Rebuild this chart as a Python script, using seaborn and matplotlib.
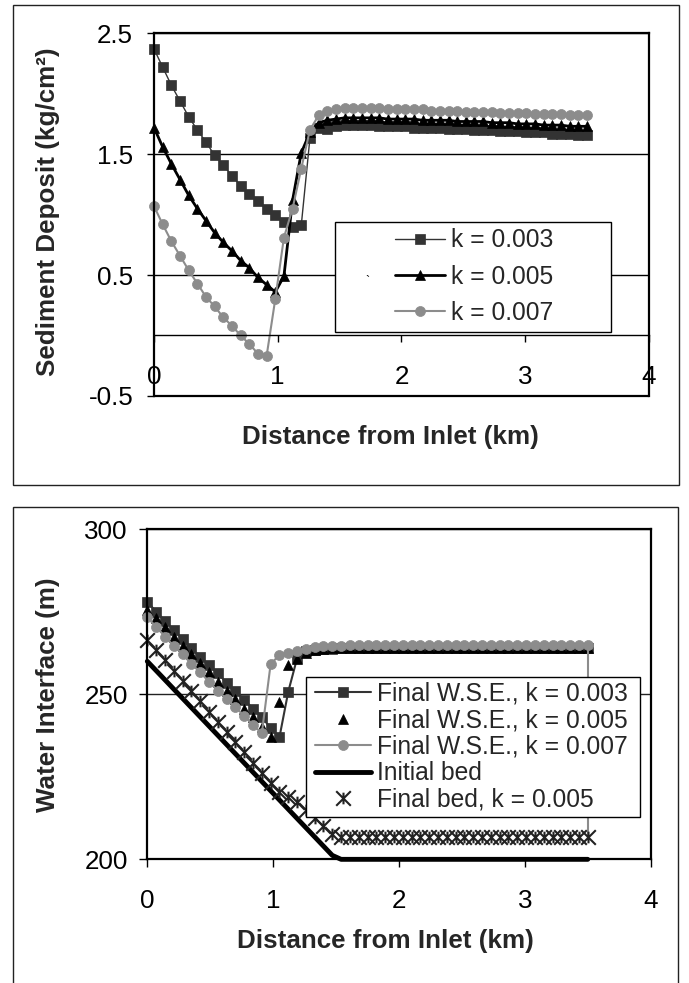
import matplotlib
matplotlib.use('Agg')
import matplotlib.pyplot as plt
import seaborn as sns
from matplotlib.patches import Rectangle
from matplotlib.path import Path

# ---------------- data ----------------
distance_km = [0.00, 0.07, 0.14, 0.21, 0.28, 0.35, 0.42, 0.49, 0.56, 0.63,
               0.70, 0.77, 0.84, 0.91, 0.98, 1.05, 1.12, 1.19, 1.26, 1.33,
               1.40, 1.47, 1.54, 1.61, 1.68, 1.75, 1.82, 1.89, 1.96, 2.03,
               2.10, 2.17, 2.24, 2.31, 2.38, 2.45, 2.52, 2.59, 2.66, 2.73,
               2.80, 2.87, 2.94, 3.01, 3.08, 3.15, 3.22, 3.29, 3.36, 3.43, 3.50]

deposit_k003 = [2.37, 2.22, 2.07, 1.94, 1.81, 1.70, 1.60, 1.49, 1.41, 1.32,
                1.24, 1.17, 1.11, 1.05, 1.00, 0.94, 0.90, 0.91, 1.63, 1.72,
                1.71, 1.73, 1.74, 1.74, 1.74, 1.74, 1.73, 1.73, 1.73, 1.73,
                1.72, 1.72, 1.72, 1.72, 1.71, 1.71, 1.71, 1.70, 1.70, 1.70,
                1.69, 1.69, 1.69, 1.68, 1.68, 1.68, 1.67, 1.67, 1.67, 1.66, 1.66]
deposit_k005 = [1.72, 1.56, 1.42, 1.29, 1.16, 1.05, 0.95, 0.85, 0.77, 0.70,
                0.62, 0.56, 0.48, 0.42, 0.36, 0.49, 1.12, 1.51, 1.68, 1.76,
                1.78, 1.79, 1.80, 1.80, 1.80, 1.80, 1.80, 1.79, 1.79, 1.79,
                1.79, 1.78, 1.78, 1.78, 1.78, 1.77, 1.77, 1.77, 1.77, 1.76,
                1.76, 1.76, 1.75, 1.75, 1.75, 1.74, 1.74, 1.74, 1.73, 1.73, 1.73]
deposit_k007 = [1.07, 0.92, 0.78, 0.66, 0.54, 0.43, 0.32, 0.24, 0.15, 0.08,
                0.00, -0.07, -0.15, -0.17, 0.30, 0.81, 1.05, 1.38, 1.70, 1.82,
                1.86, 1.87, 1.88, 1.88, 1.88, 1.88, 1.88, 1.87, 1.87, 1.87,
                1.87, 1.87, 1.86, 1.86, 1.86, 1.86, 1.85, 1.85, 1.85, 1.85,
                1.84, 1.84, 1.84, 1.84, 1.83, 1.83, 1.83, 1.83, 1.82, 1.82, 1.82]

wse_k003 = [278.1, 275.0, 272.3, 269.5, 266.7, 263.9, 261.4, 258.9, 256.4, 253.5,
            251.0, 248.3, 245.7, 243.2, 239.7, 237.0, 250.8, 260.9, 263.0, 263.4,
            263.6, 263.8, 263.9, 263.9, 264.0, 264.0, 264.0, 264.0, 264.0, 264.0,
            264.0, 264.0, 264.0, 264.0, 264.0, 264.0, 264.0, 264.0, 264.0, 264.0,
            264.0, 264.0, 264.0, 264.0, 264.0, 264.0, 264.0, 264.0, 264.0, 264.0, 264.0]
wse_k005 = [275.5, 273.0, 270.3, 267.5, 264.7, 262.2, 259.4, 256.7, 253.8, 251.1,
            248.5, 245.7, 243.2, 240.2, 237.0, 247.8, 258.9, 260.6, 262.5, 263.3,
            263.6, 263.9, 264.0, 264.0, 264.0, 264.1, 264.1, 264.1, 264.1, 264.1,
            264.1, 264.1, 264.1, 264.1, 264.1, 264.1, 264.1, 264.1, 264.1, 264.1,
            264.1, 264.1, 264.1, 264.1, 264.1, 264.1, 264.1, 264.1, 264.1, 264.1, 264.1]
wse_k007 = [273.3, 270.5, 267.5, 264.7, 262.2, 259.2, 256.7, 253.8, 251.1, 248.6,
            246.1, 243.5, 240.7, 238.2, 259.2, 261.9, 262.6, 263.2, 263.8, 264.2,
            264.5, 264.7, 264.8, 264.9, 264.9, 264.9, 264.9, 264.9, 264.9, 264.9,
            264.9, 264.9, 264.9, 264.9, 264.9, 264.9, 264.9, 264.9, 264.9, 264.9,
            264.9, 264.9, 264.9, 264.9, 264.9, 264.9, 264.9, 264.9, 264.9, 264.9, 264.9]
initial_bed = [260.0, 257.2, 254.4, 251.6, 248.8, 246.0, 243.2, 240.4, 237.6, 234.8,
               232.0, 229.2, 226.4, 223.6, 220.8, 218.0, 215.2, 212.4, 209.6, 206.8,
               204.0, 201.2, 200.0, 200.0, 200.0, 200.0, 200.0, 200.0, 200.0, 200.0,
               200.0, 200.0, 200.0, 200.0, 200.0, 200.0, 200.0, 200.0, 200.0, 200.0,
               200.0, 200.0, 200.0, 200.0, 200.0, 200.0, 200.0, 200.0, 200.0, 200.0, 200.0]
final_bed_k005 = [266.5, 263.4, 260.3, 257.2, 254.1, 251.0, 247.9, 244.8, 241.7, 238.6,
                  235.5, 232.4, 229.3, 226.2, 223.0, 220.5, 219.0, 217.5, 215.0, 212.4,
                  210.0, 207.8, 206.9, 206.8, 206.8, 206.8, 206.8, 206.8, 206.8, 206.8,
                  206.8, 206.8, 206.8, 206.8, 206.8, 206.8, 206.8, 206.8, 206.8, 206.8,
                  206.8, 206.8, 206.8, 206.8, 206.8, 206.8, 206.8, 206.8, 206.8, 206.8, 206.8]

x_ticks = [0, 1, 2, 3, 4]
x_tick_labels = ['0', '1', '2', '3', '4']
top_y_ticks = [-0.5, 0.5, 1.5, 2.5]
top_y_tick_labels = ['-0.5', '0.5', '1.5', '2.5']
bot_y_ticks = [200, 250, 300]
bot_y_tick_labels = ['200', '250', '300']

top_labels = ['k = 0.003', 'k = 0.005', 'k = 0.007']
bot_labels = ['Final W.S.E., k = 0.003', 'Final W.S.E., k = 0.005',
              'Final W.S.E., k = 0.007', 'Initial bed', 'Final bed, k = 0.005']

# ---------------- style ----------------
sns.set_style('white')
plt.rcParams['font.family'] = ['Liberation Sans', 'DejaVu Sans']
plt.rcParams['axes.unicode_minus'] = False

DARK = '#333333'
GRAY = '#8c8c8c'
TICK_FS = 18.7
LAB_FS = 18.7
LEG_FS = 17.7

# Excel-like star marker: an X with a short vertical stroke
star_marker = Path([(-1, -1), (1, 1), (-1, 1), (1, -1), (0, -0.8), (0, 0.8)],
                   [Path.MOVETO, Path.LINETO, Path.MOVETO, Path.LINETO, Path.MOVETO, Path.LINETO])

fig = plt.figure(figsize=(6.89, 9.83), dpi=100)

# outer frames
fig.patches.append(Rectangle((0.0193, 0.5066), 0.9666, 0.4883, transform=fig.transFigure,
                             fill=False, ec='#222222', lw=1.0))
fig.patches.append(Rectangle((0.0193, -0.02), 0.9643, 0.5045, transform=fig.transFigure,
                             fill=False, ec='#222222', lw=1.0))

# ---------------- top chart ----------------
ax1 = fig.add_axes([0.2235, 0.5972, 0.7184, 0.369])
common = dict(estimator=None, sort=False, ax=ax1, clip_on=False)
sns.lineplot(x=distance_km, y=deposit_k003, color=DARK, marker='s', markersize=7.3,
             markeredgecolor=DARK, markeredgewidth=0.5, linewidth=1.0, label=top_labels[0], **common)
sns.lineplot(x=distance_km, y=deposit_k005, color='black', marker='^', markersize=7.8,
             markeredgecolor='black', markeredgewidth=0.5, linewidth=2.0, label=top_labels[1], **common)
sns.lineplot(x=distance_km, y=deposit_k007, color=GRAY, marker='o', markersize=7.2,
             markeredgecolor=GRAY, markeredgewidth=0.5, linewidth=1.5, label=top_labels[2], **common)

ax1.set_xlim(0, 4)
ax1.set_ylim(-0.5, 2.5)
ax1.set_xticks(x_ticks)
ax1.set_xticklabels(x_tick_labels)
ax1.set_yticks(top_y_ticks)
ax1.set_yticklabels(top_y_tick_labels)
ax1.yaxis.grid(True, color='black', lw=1.0)
ax1.xaxis.grid(False)
for s in ['left', 'top', 'right']:
    ax1.spines[s].set_color('black')
    ax1.spines[s].set_linewidth(1.6)
ax1.spines['bottom'].set_position(('data', 0))
ax1.spines['bottom'].set_color('black')
ax1.spines['bottom'].set_linewidth(1.0)
ax1.plot([0, 1], [0, 0], transform=ax1.transAxes, color='black', lw=1.6, clip_on=False, zorder=3)
ax1.tick_params(axis='both', bottom=True, left=True, direction='out', length=5, width=1,
                colors='black', labelsize=TICK_FS)
ax1.tick_params(axis='x', pad=16)
ax1.tick_params(axis='y', pad=10)
ax1.set_xlabel('Distance from Inlet (km)', fontsize=LAB_FS, fontweight='bold')
ax1.xaxis.set_label_coords(0.477, -0.112)
ax1.xaxis.label.set_va('center')
ax1.set_ylabel('Sediment Deposit (kg/cm²)', fontsize=LAB_FS, fontweight='bold')
ax1.yaxis.set_label_coords(-0.214, 0.509)
ax1.yaxis.label.set_va('center')
ax1.yaxis.label.set_ha('center')

ax1.add_patch(Rectangle((0.3657, 0.1773), 0.5575, 0.3016, transform=ax1.transAxes,
                        fc='white', ec='black', lw=1.0, zorder=4))
ax1.legend(loc='center left', bbox_to_anchor=(0.487, 0.329), frameon=False, fontsize=LEG_FS,
           handlelength=2.03, handletextpad=0.25, labelspacing=0.5, borderpad=0,
           borderaxespad=0)
ax1.text(0.432, 0.315, '`', transform=ax1.transAxes, fontsize=9, ha='center', va='center',
         color='black', zorder=6)

# ---------------- bottom chart ----------------
ax2 = fig.add_axes([0.2138, 0.1258, 0.7306, 0.3357])
common2 = dict(estimator=None, sort=False, ax=ax2, clip_on=False)
sns.lineplot(x=distance_km, y=wse_k003, color=DARK, marker='s', markersize=7.8,
             markeredgecolor=DARK, markeredgewidth=0.5, linewidth=1.5, label=bot_labels[0], **common2)
sns.lineplot(x=distance_km, y=wse_k005, color='black', marker='^', markersize=7.4,
             markeredgecolor='black', markeredgewidth=0.5, linestyle='none', label=bot_labels[1], **common2)
sns.lineplot(x=distance_km, y=wse_k007, color=GRAY, marker='o', markersize=7.2,
             markeredgecolor=GRAY, markeredgewidth=0.5, linewidth=1.5, label=bot_labels[2], **common2)
sns.lineplot(x=[distance_km[-1], distance_km[-1]], y=[wse_k007[-1], final_bed_k005[-1]],
             color=GRAY, linewidth=1.5, **common2)
sns.lineplot(x=distance_km, y=initial_bed, color='black', linewidth=3.5, label=bot_labels[3], **common2)
sns.lineplot(x=distance_km, y=final_bed_k005, color='#222222', marker=star_marker, markersize=10.5,
             markeredgecolor='#222222', markeredgewidth=1.5, linestyle='none', label=bot_labels[4], **common2)

ax2.set_xlim(0, 4)
ax2.set_ylim(200, 300)
ax2.set_xticks(x_ticks)
ax2.set_xticklabels(x_tick_labels)
ax2.set_yticks(bot_y_ticks)
ax2.set_yticklabels(bot_y_tick_labels)
ax2.yaxis.grid(True, color='#222222', lw=1.0)
ax2.xaxis.grid(False)
for s in ['left', 'top', 'right', 'bottom']:
    ax2.spines[s].set_color('black')
    ax2.spines[s].set_linewidth(1.6)
ax2.tick_params(axis='both', bottom=True, left=True, direction='out', length=6, width=1,
                colors='black', labelsize=TICK_FS)
ax2.tick_params(axis='x', pad=15)
ax2.tick_params(axis='y', pad=8)
ax2.set_xlabel('Distance from Inlet (km)', fontsize=LAB_FS, fontweight='bold')
ax2.xaxis.set_label_coords(0.472, -0.248)
ax2.xaxis.label.set_va('center')
ax2.set_ylabel('Water Interface (m)', fontsize=LAB_FS, fontweight='bold')
ax2.yaxis.set_label_coords(-0.197, 0.5)
ax2.yaxis.label.set_va('center')
ax2.yaxis.label.set_ha('center')

ax2.add_patch(Rectangle((0.3147, 0.129), 0.6641, 0.4243, transform=ax2.transAxes,
                        fc='white', ec='black', lw=1.0, zorder=4))
ax2.legend(loc='center left', bbox_to_anchor=(0.333, 0.341), frameon=False, fontsize=LEG_FS,
           handlelength=2.3, handletextpad=0.23, labelspacing=0.1, borderpad=0,
           borderaxespad=0)

fig.savefig('out.png', dpi=100)
